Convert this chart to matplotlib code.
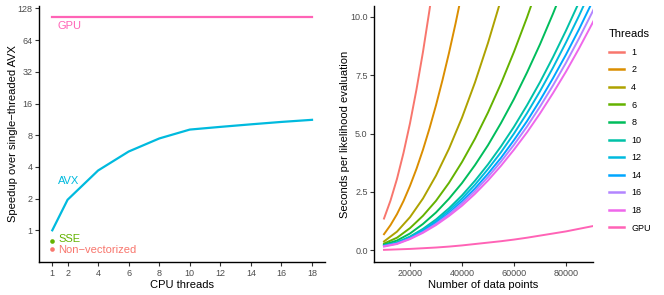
import numpy as np
import matplotlib
matplotlib.use("Agg")
import matplotlib.pyplot as plt

plt.rcParams['font.family'] = ['Liberation Sans', 'DejaVu Sans']

# ---- left panel data: speedup over single-threaded AVX
cpu_threads = [1, 2, 4, 6, 8, 10, 12, 14, 16, 18]
avx_speedup = [1.0, 1.95, 3.7, 5.6, 7.45, 9.05, 9.6, 10.15, 10.7, 11.2]
gpu_speedup = 106.8
sse_speedup = 0.80
nonvec_speedup = 0.66

# ---- right panel data: seconds per likelihood evaluation
n_fine = [10000, 12500, 15000, 17500, 20000, 22500, 25000, 27500, 30000,
          32500, 35000, 37500, 40000]
n_points = [10000, 15000, 20000, 25000, 30000, 35000, 40000, 45000, 50000,
            55000, 60000, 65000, 70000, 75000, 80000, 85000, 90000, 95000]
thread_labels = ['1', '2', '4', '6', '8', '10', '12', '14', '16', '18', 'GPU']
seconds = {
    '1': [1.36, 2.13, 3.06, 4.17, 5.44, 6.89, 8.50, 10.29, 12.24],
    '2': [0.69, 1.08, 1.55, 2.11, 2.76, 3.49, 4.31, 5.22, 6.21, 7.29, 8.45,
          9.70, 11.04],
    '4': [0.38, 0.80, 1.42, 2.22, 3.20, 4.35, 5.68, 7.19, 8.88, 10.74],
    '6': [0.29, 0.54, 0.95, 1.48, 2.12, 2.89, 3.78, 4.78, 5.90, 7.14, 8.50,
          9.97, 11.56],
    '8': [0.24, 0.42, 0.72, 1.13, 1.62, 2.21, 2.88, 3.65, 4.50, 5.45, 6.48,
          7.61, 8.82, 10.13, 11.52],
    '10': [0.21, 0.34, 0.59, 0.92, 1.32, 1.80, 2.35, 2.98, 3.68, 4.45, 5.29,
           6.21, 7.20, 8.27, 9.41, 10.62],
    '12': [0.20, 0.32, 0.56, 0.87, 1.25, 1.70, 2.22, 2.81, 3.48, 4.20, 5.00,
           5.87, 6.81, 7.82, 8.90, 10.04, 11.26],
    '14': [0.19, 0.30, 0.52, 0.82, 1.18, 1.60, 2.10, 2.65, 3.28, 3.96, 4.72,
           5.53, 6.42, 7.37, 8.38, 9.46, 10.61],
    '16': [0.18, 0.29, 0.50, 0.78, 1.13, 1.54, 2.01, 2.54, 3.14, 3.80, 4.52,
           5.30, 6.15, 7.06, 8.03, 9.07, 10.17, 11.33],
    '18': [0.16, 0.27, 0.48, 0.75, 1.08, 1.47, 1.91, 2.42, 2.99, 3.62, 4.31,
           5.05, 5.86, 6.73, 7.65, 8.64, 9.69, 10.79],
    'GPU': [0.02, 0.04, 0.06, 0.09, 0.12, 0.16, 0.21, 0.27, 0.33, 0.39, 0.46,
            0.54, 0.63, 0.72, 0.81, 0.92, 1.03, 1.14],
}
fine_series = ['1', '2']
colors = ['#F8766D', '#DB8E00', '#AEA200', '#64B200', '#00BD5C', '#00C1A7',
          '#00BADE', '#00A6FF', '#B385FF', '#EF67EB', '#FF63B6']

tick_col = '#4D4D4D'
W, H = 664, 295
fig = plt.figure(figsize=(W / 100, H / 100), dpi=100)


def style(ax):
    for s in ['top', 'right']:
        ax.spines[s].set_visible(False)
    for s in ['left', 'bottom']:
        ax.spines[s].set_linewidth(1.0)
        ax.spines[s].set_color('black')
    ax.tick_params(length=2.8, width=0.8, color='#333333', labelsize=6.5,
                   labelcolor=tick_col, pad=2)


# ---- left panel
ax1 = fig.add_axes([39.3 / W, 1 - 262 / H, (325 - 39.3) / W, 256 / H])
ax1.set_yscale('log', base=2)
ax1.plot(cpu_threads, avx_speedup, color='#00BADE', lw=1.6)
ax1.plot([cpu_threads[0], cpu_threads[-1]], [gpu_speedup, gpu_speedup],
         color='#FF63B6', lw=1.6)
ax1.scatter([1], [sse_speedup], s=11, color='#64B200', zorder=3, lw=0)
ax1.scatter([1], [nonvec_speedup], s=11, color='#F8766D', zorder=3, lw=0)
ax1.text(1.32, 87, 'GPU', color='#FF63B6', fontsize=8, va='center')
ax1.text(1.38, 2.94, 'AVX', color='#00BADE', fontsize=8, va='center')
ax1.text(1.4, 0.83, 'SSE', color='#64B200', fontsize=8, va='center')
ax1.text(1.4, 0.65, 'Non\u2212vectorized', color='#F8766D', fontsize=8,
         va='center')
ax1.set_xlim(0.15, 18.85)
ax1.set_ylim(0.5, 135)
ax1.set_xticks(cpu_threads)
ax1.set_yticks([1, 2, 4, 8, 16, 32, 64, 128])
ax1.set_yticklabels(['1', '2', '4', '8', '16', '32', '64', '128'])
ax1.minorticks_off()
ax1.set_xlabel('CPU threads', fontsize=8, labelpad=2)
ax1.set_ylabel('Speedup over single\u2212threaded AVX', fontsize=8, labelpad=0)
style(ax1)

# ---- right panel
ax2 = fig.add_axes([374.3 / W, 1 - 262 / H, (592.7 - 374.3) / W, 256 / H])
for lab, col in zip(thread_labels, colors):
    ys = seconds[lab]
    xs = n_fine if lab in fine_series else n_points
    ax2.plot(xs[:len(ys)], ys, color=col, lw=1.4, label=lab)
ax2.set_xlim(6270, 90270)
ax2.set_ylim(-0.5, 10.46)
ax2.set_xticks([20000, 40000, 60000, 80000])
ax2.set_xticklabels(['20000', '40000', '60000', '80000'])
ax2.set_yticks([0, 2.5, 5, 7.5, 10])
ax2.set_yticklabels(['0.0', '2.5', '5.0', '7.5', '10.0'])
ax2.set_xlabel('Number of data points', fontsize=8, labelpad=2)
ax2.set_ylabel('Seconds per likelihood evaluation', fontsize=8, labelpad=0)
style(ax2)

leg = ax2.legend(title='Threads', loc='upper left',
                 bbox_to_anchor=(606.8 / W, 1 - 27 / H),
                 bbox_transform=fig.transFigure, frameon=False,
                 fontsize=6.5, title_fontsize=8, handlelength=1.65,
                 handletextpad=0.8, labelspacing=0.95, borderaxespad=0,
                 borderpad=0.25)
leg._legend_box.align = 'left'
for ln in leg.get_lines():
    ln.set_linewidth(1.8)

fig.savefig('out.png', dpi=100)
